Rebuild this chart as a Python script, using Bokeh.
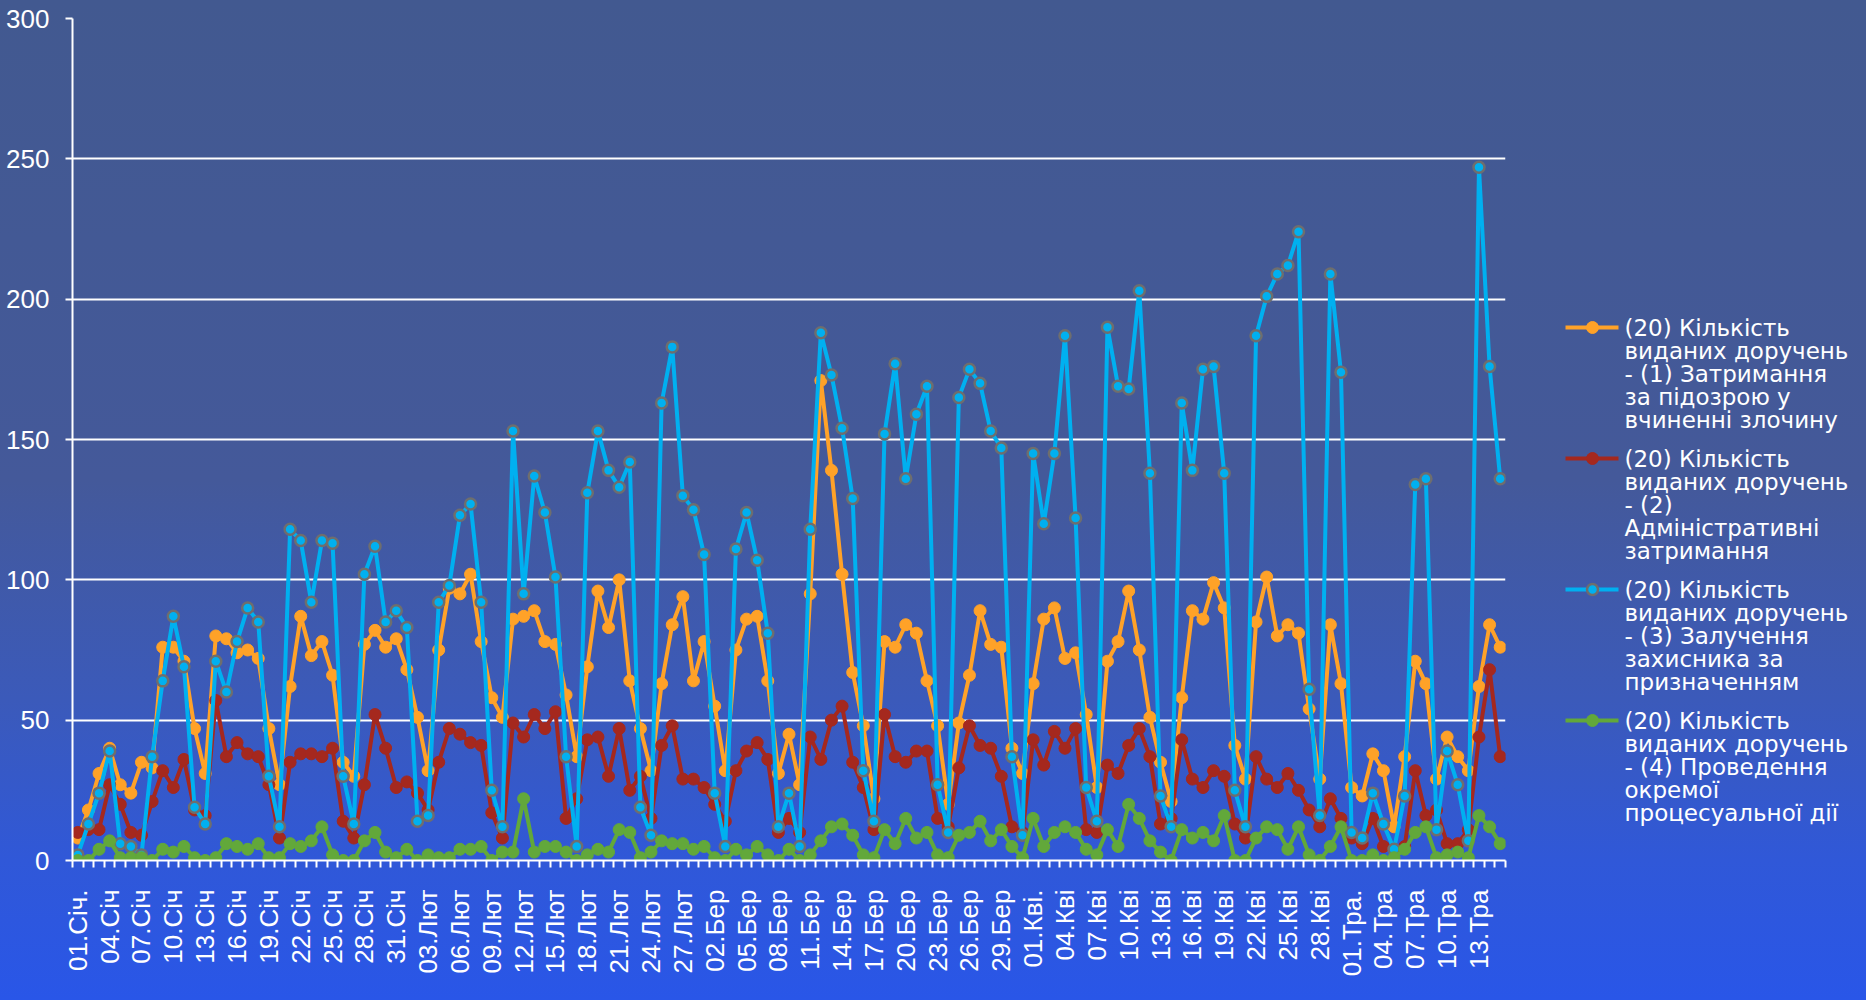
import math
from bokeh.plotting import figure
from bokeh.models import FixedTicker, Range1d, GlobalInlineStyleSheet
from bokeh.layouts import row
from bokeh.embed import file_html
from bokeh.resources import INLINE
from bokeh.core.properties import value

# ---------------- data ----------------
month_names = ["Січ", "Лют", "Бер", "Кві", "Тра"]
month_days = [31, 28, 31, 30, 15]
days = [f"{d:02d}.{m}" for m, n in zip(month_names, month_days) for d in range(1, n + 1)]

tick_labels = ["01.Січ.", "04.Січ", "07.Січ", "10.Січ", "13.Січ", "16.Січ", "19.Січ", "22.Січ",
               "25.Січ", "28.Січ", "31.Січ", "03.Лют", "06.Лют", "09.Лют", "12.Лют", "15.Лют",
               "18.Лют", "21.Лют", "24.Лют", "27.Лют", "02.Бер", "05.Бер", "08.Бер", "11.Бер",
               "14.Бер", "17.Бер", "20.Бер", "23.Бер", "26.Бер", "29.Бер", "01.Кві.", "04.Кві",
               "07.Кві", "10.Кві", "13.Кві", "16.Кві", "19.Кві", "22.Кві", "25.Кві", "28.Кві",
               "01.Тра.", "04.Тра", "07.Тра", "10.Тра", "13.Тра"]

s1 = [8, 18, 31, 40, 27, 24, 35, 33, 76, 76, 71, 47, 31, 80, 79, 74, 75, 72, 47, 27,
      62, 87, 73, 78, 66, 35, 30, 77, 82, 76, 79, 68, 51, 32, 75, 97, 95, 102, 78, 58,
      51, 86, 87, 89, 78, 77, 59, 37, 69, 96, 83, 100, 64, 47, 32, 63, 84, 94, 64, 78,
      55, 32, 75, 86, 87, 64, 31, 45, 27, 95, 171, 139, 102, 67, 48, 22, 78, 76, 84, 81,
      64, 48, 20, 49, 66, 89, 77, 76, 40, 31, 63, 86, 90, 72, 74, 52, 26, 71, 78, 96,
      75, 51, 35, 21, 58, 89, 86, 99, 90, 41, 29, 85, 101, 80, 84, 81, 54, 29, 84, 63,
      26, 23, 38, 32, 12, 37, 71, 63, 29, 44, 37, 32, 62, 84, 76]
s2 = [10, 11, 11, 27, 20, 10, 9, 21, 32, 26, 36, 18, 16, 57, 37, 42, 38, 37, 27, 8,
      35, 38, 38, 37, 40, 14, 8, 27, 52, 40, 26, 28, 24, 18, 35, 47, 45, 42, 41, 17,
      8, 49, 44, 52, 47, 53, 15, 22, 43, 44, 30, 47, 25, 30, 15, 41, 48, 29, 29, 26,
      20, 14, 32, 39, 42, 36, 10, 15, 10, 44, 36, 50, 55, 35, 26, 11, 52, 37, 35, 39,
      39, 15, 12, 33, 48, 41, 40, 30, 12, 10, 43, 34, 46, 40, 47, 11, 10, 34, 31, 41,
      47, 37, 13, 15, 43, 29, 26, 32, 30, 13, 8, 37, 29, 26, 31, 25, 18, 12, 22, 15,
      8, 6, 15, 5, 4, 5, 32, 16, 18, 6, 6, 11, 44, 68, 37]
s3 = [2, 13, 24, 39, 6, 5, 2, 37, 64, 87, 69, 19, 13, 71, 60, 78, 90, 85, 30, 12,
      118, 114, 92, 114, 113, 30, 13, 102, 112, 85, 89, 83, 14, 16, 92, 98, 123, 127, 92, 25,
      12, 153, 95, 137, 124, 101, 37, 5, 131, 153, 139, 133, 142, 19, 9, 163, 183, 130, 125, 109,
      24, 5, 111, 124, 107, 81, 12, 24, 5, 118, 188, 173, 154, 129, 32, 14, 152, 177, 136, 159,
      169, 27, 10, 165, 175, 170, 153, 147, 37, 9, 145, 120, 145, 187, 122, 26, 14, 190, 169, 168,
      203, 138, 23, 12, 163, 139, 175, 176, 138, 25, 12, 187, 201, 209, 212, 224, 61, 16, 209, 174,
      10, 8, 24, 13, 4, 23, 134, 136, 11, 39, 27, 7, 247, 176, 136]
s4 = [0, 0, 4, 7, 1, 1, 1, 0, 4, 3, 5, 1, 0, 1, 6, 5, 4, 6, 1, 1,
      6, 5, 7, 12, 2, 0, 0, 7, 10, 3, 1, 4, 0, 2, 1, 1, 4, 4, 5, 0,
      3, 3, 22, 3, 5, 5, 3, 0, 2, 4, 3, 11, 10, 1, 3, 7, 6, 6, 4, 5,
      1, 0, 4, 2, 5, 2, 0, 4, 0, 2, 7, 12, 13, 9, 2, 1, 11, 6, 15, 8,
      10, 2, 1, 9, 10, 14, 7, 11, 5, 1, 15, 5, 10, 12, 10, 4, 2, 11, 5, 20,
      15, 7, 3, 0, 11, 8, 10, 7, 16, 0, 0, 8, 12, 11, 4, 12, 2, 0, 5, 12,
      0, 0, 2, 0, 1, 4, 10, 12, 1, 2, 3, 1, 16, 12, 6]

series_labels = [
    ["(20) Кількість", "виданих доручень", "- (1) Затримання", "за підозрою у", "вчиненні злочину"],
    ["(20) Кількість", "виданих доручень", "- (2)", "Адміністративні", "затримання"],
    ["(20) Кількість", "виданих доручень", "- (3) Залучення", "захисника за", "призначенням"],
    ["(20) Кількість", "виданих доручень", "- (4) Проведення", "окремої", "процесуальної дії"],
]
y_ticks = [0, 50, 100, 150, 200, 250, 300]

# ---------------- style ----------------
colors = ["#FFA228", "#A5281E", "#00B0F0", "#62A83A"]
blue_edge = "#6E6E6E"
GRAD = ("linear-gradient(180deg, #425990 0%, #44599A 48%, #3B5ABA 70%, "
        "#3058D8 86%, #2956E8 100%)")
FONT = "Liberation Sans"

MAIN_W, H = 1528, 1000
FRAME_TOP, FRAME_BOTTOM = 18, 860

N = len(days)
xs = list(range(N))

p = figure(width=MAIN_W, height=H, x_range=Range1d(-0.5, N - 0.5), y_range=Range1d(0, 300),
           output_backend="svg", toolbar_location=None,
           min_border_left=72, min_border_right=23, min_border_top=FRAME_TOP,
           min_border_bottom=H - FRAME_BOTTOM)
p.background_fill_alpha = 0
p.border_fill_alpha = 0
p.outline_line_color = None
p.styles = {"background": GRAD}
p.stylesheets = [GlobalInlineStyleSheet(css="html, body { background: " + GRAD + "; }")]

# y axis
p.yaxis.ticker = FixedTicker(ticks=y_ticks)
p.yaxis.axis_line_color = "white"
p.yaxis.axis_line_width = 2
p.yaxis.major_tick_line_color = "white"
p.yaxis.major_tick_line_width = 2
p.yaxis.major_tick_out = 7
p.yaxis.major_tick_in = 0
p.yaxis.minor_tick_line_color = None
p.yaxis.major_label_text_color = "white"
p.yaxis.major_label_text_font = FONT
p.yaxis.major_label_text_font_size = "26px"
p.yaxis.major_label_standoff = 16

p.ygrid.ticker = FixedTicker(ticks=y_ticks)
p.ygrid.grid_line_color = "white"
p.ygrid.grid_line_width = 2
p.xgrid.visible = False

# x axis: labels every 3rd day, tick marks between days
label_pos = list(range(0, N, 3))
p.xaxis.ticker = FixedTicker(ticks=label_pos, minor_ticks=[k - 0.5 for k in range(N + 1)])
p.xaxis.major_label_overrides = {i: t for i, t in zip(label_pos, tick_labels)}
p.xaxis.major_label_orientation = math.pi / 2
p.xaxis.axis_line_color = "white"
p.xaxis.axis_line_width = 2
p.xaxis.major_tick_line_color = None
p.xaxis.major_tick_out = 0
p.xaxis.major_tick_in = 0
p.xaxis.minor_tick_line_color = "white"
p.xaxis.minor_tick_line_width = 2
p.xaxis.minor_tick_out = 7
p.xaxis.minor_tick_in = 0
p.xaxis.major_label_text_color = "white"
p.xaxis.major_label_text_font = FONT
p.xaxis.major_label_text_font_size = "26px"
p.xaxis.major_label_standoff = 22

for ys, c in zip([s1, s2, s3, s4], colors):
    p.line(xs, ys, line_color=c, line_width=4)
    if c == colors[2]:
        p.scatter(xs, ys, size=11, fill_color=c, line_color=blue_edge, line_width=2.5)
    else:
        p.scatter(xs, ys, size=12, fill_color=c, line_color=c, line_width=1)

# ---------------- legend panel ----------------
# the row aligns this panel's frame with the chart frame, so its y range spans
# the same page rows (FRAME_BOTTOM .. FRAME_TOP); x runs in page pixels
lg = figure(width=1866 - MAIN_W, height=H, x_range=Range1d(MAIN_W, 1866),
            y_range=Range1d(FRAME_BOTTOM, FRAME_TOP),
            output_backend="svg", toolbar_location=None,
            x_axis_location=None, y_axis_location=None,
            min_border_left=0, min_border_right=0, min_border_top=FRAME_TOP,
            min_border_bottom=H - FRAME_BOTTOM)
lg.background_fill_alpha = 0
lg.border_fill_alpha = 0
lg.outline_line_color = None
lg.grid.visible = False
lg.styles = {"background": GRAD}

entry_top = [327, 458, 589, 720]
line_step = 23.2
for k, (c, lines) in enumerate(zip(colors, series_labels)):
    y0 = entry_top[k]
    lg.line([1565, 1618], [y0, y0], line_color=c, line_width=4)
    if k == 2:
        lg.scatter([1592], [y0], size=11, fill_color=c, line_color=blue_edge, line_width=2.5)
    else:
        lg.scatter([1592], [y0], size=12, fill_color=c, line_color=c)
    lg.text(x=[1624] * len(lines), y=[y0 + j * line_step for j in range(len(lines))], text=lines,
            text_font=value("DejaVu Sans"), text_font_size="23px", text_color="white",
            text_baseline="middle", text_align="left")

layout = row(p, lg)
open("out.html", "w").write(file_html(layout, INLINE))
